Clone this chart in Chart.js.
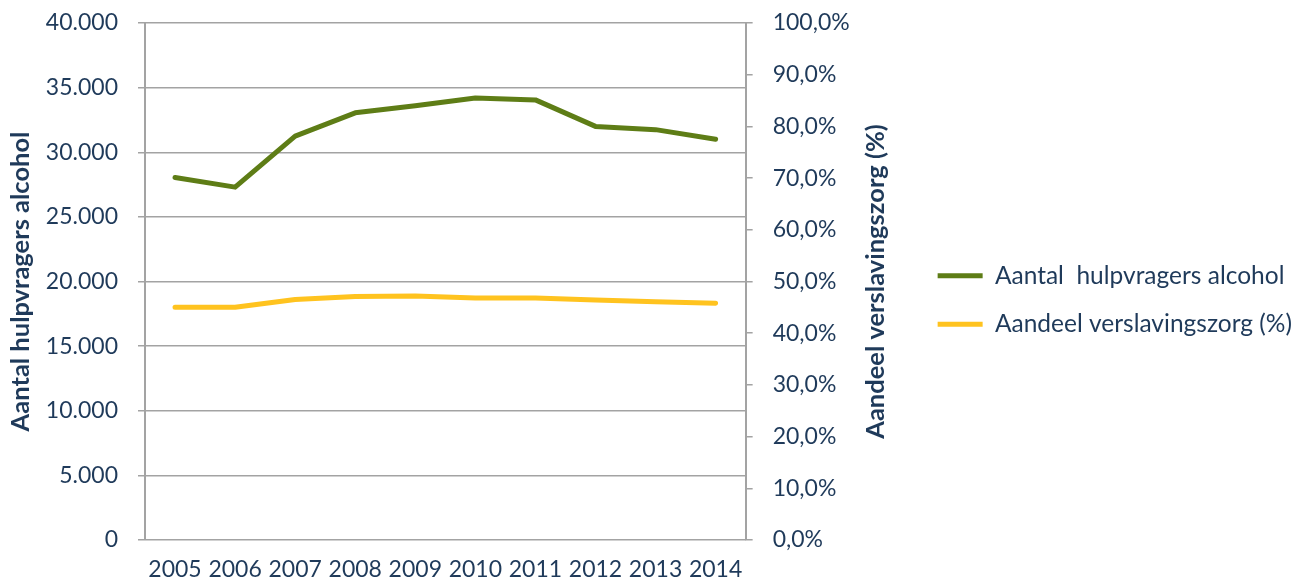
<!DOCTYPE html>
<html>
<head>
<meta charset="utf-8">
<script src="https://cdn.jsdelivr.net/npm/chart.js@4/dist/chart.umd.min.js"></script>
<style>
  html, body { margin: 0; padding: 0; background: #fff; }
  #wrap { width: 1309px; height: 585px; position: relative; }
</style>
</head>
<body>
<div id="wrap"><canvas id="chart"></canvas></div>
<script>
const years = ["2005", "2006", "2007", "2008", "2009", "2010", "2011", "2012", "2013", "2014"];
const hulpvragers = [28050, 27300, 31250, 33050, 33600, 34200, 34050, 32000, 31750, 31000];
const aandeel = [45.0, 45.0, 46.5, 47.1, 47.2, 46.8, 46.8, 46.4, 46.1, 45.8];
const countTicks = [0, 5000, 10000, 15000, 20000, 25000, 30000, 35000, 40000];
const percentTicks = [0, 10, 20, 30, 40, 50, 60, 70, 80, 90, 100];

const leftTitle = "Aantal hulpvragers alcohol";
const rightTitle = "Aandeel verslavingszorg (%)";

const textColor = "#1F3A5A";
const gridColor = "#A3A3A3";
const fontFamily = "Lato";

// thousands with a dot, percentages with a comma
function fmtCount(v) {
  return String(v).replace(/\B(?=(\d{3})+(?!\d))/g, ".");
}
function fmtPercent(v) {
  return v.toFixed(1).replace(".", ",") + "%";
}

// right title reads bottom-to-top like the left one
const rightTitlePlugin = {
  id: "rightTitle",
  afterDraw(chart) {
    const { ctx, chartArea } = chart;
    const s = chart.scales.y1;
    ctx.save();
    ctx.translate(s.left + 130, (chartArea.top + chartArea.bottom) / 2);
    ctx.rotate(-Math.PI / 2);
    ctx.font = "bold 25.5px " + fontFamily;
    ctx.fillStyle = textColor;
    ctx.textAlign = "center";
    ctx.textBaseline = "middle";
    ctx.fillText(rightTitle, 0, 0);
    ctx.restore();
  },
};

new Chart(document.getElementById("chart"), {
  type: "line",
  data: {
    labels: years,
    datasets: [
      {
        label: "Aantal  hulpvragers alcohol",
        data: hulpvragers,
        yAxisID: "y",
        borderColor: "#5E7D16",
        backgroundColor: "#5E7D16",
        borderWidth: 5,
        borderCapStyle: "round",
        borderJoinStyle: "round",
        pointRadius: 0,
        tension: 0,
      },
      {
        label: "Aandeel verslavingszorg (%)",
        data: aandeel,
        yAxisID: "y1",
        borderColor: "#FFC31F",
        backgroundColor: "#FFC31F",
        borderWidth: 5,
        borderCapStyle: "round",
        borderJoinStyle: "round",
        pointRadius: 0,
        tension: 0,
      },
    ],
  },
  options: {
    responsive: true,
    maintainAspectRatio: false,
    animation: false,
    layout: { padding: { top: 23, bottom: 8, left: 0, right: 7 } },
    plugins: {
      tooltip: { enabled: false },
      legend: {
        position: "right",
        align: "center",
        maxWidth: 420,
        labels: {
          usePointStyle: true,
          pointStyle: "line",
          pointStyleWidth: 45,
          padding: 24,
          color: textColor,
          font: { family: fontFamily, size: 24.5 },
        },
      },
    },
    scales: {
      x: {
        offset: true,
        grid: { display: false, drawTicks: false },
        border: { display: false },
        ticks: {
          color: textColor,
          font: { family: fontFamily, size: 23 },
          padding: 16,
          maxRotation: 0,
          autoSkip: false,
        },
        afterFit(scale) { scale.height = 37; },
      },
      y: {
        position: "left",
        min: countTicks[0],
        max: countTicks[countTicks.length - 1],
        grid: { color: gridColor, lineWidth: 1.5, tickLength: 7 },
        border: { display: true, color: gridColor, width: 2 },
        ticks: {
          stepSize: countTicks[1] - countTicks[0],
          color: textColor,
          font: { family: fontFamily, size: 23 },
          padding: 20,
          callback: (v) => fmtCount(v),
        },
        title: {
          display: true,
          text: leftTitle,
          color: textColor,
          font: { family: fontFamily, size: 25.5, weight: "bold" },
          padding: { top: 5, bottom: 0 },
        },
        afterFit(scale) {
          scale.width = 145;
          scale.paddingTop = 12;
          scale.paddingBottom = 12;
        },
      },
      y1: {
        position: "right",
        min: percentTicks[0],
        max: percentTicks[percentTicks.length - 1],
        grid: { drawOnChartArea: false, color: gridColor, lineWidth: 1.5, tickLength: 7 },
        border: { display: true, color: gridColor, width: 2 },
        ticks: {
          stepSize: percentTicks[1] - percentTicks[0],
          color: textColor,
          font: { family: fontFamily, size: 23 },
          padding: 20,
          callback: (v) => fmtPercent(v),
        },
        afterFit(scale) {
          scale.width = 168;
          scale.paddingTop = 12;
          scale.paddingBottom = 12;
        },
      },
    },
  },
  plugins: [rightTitlePlugin],
});
</script>
</body>
</html>
